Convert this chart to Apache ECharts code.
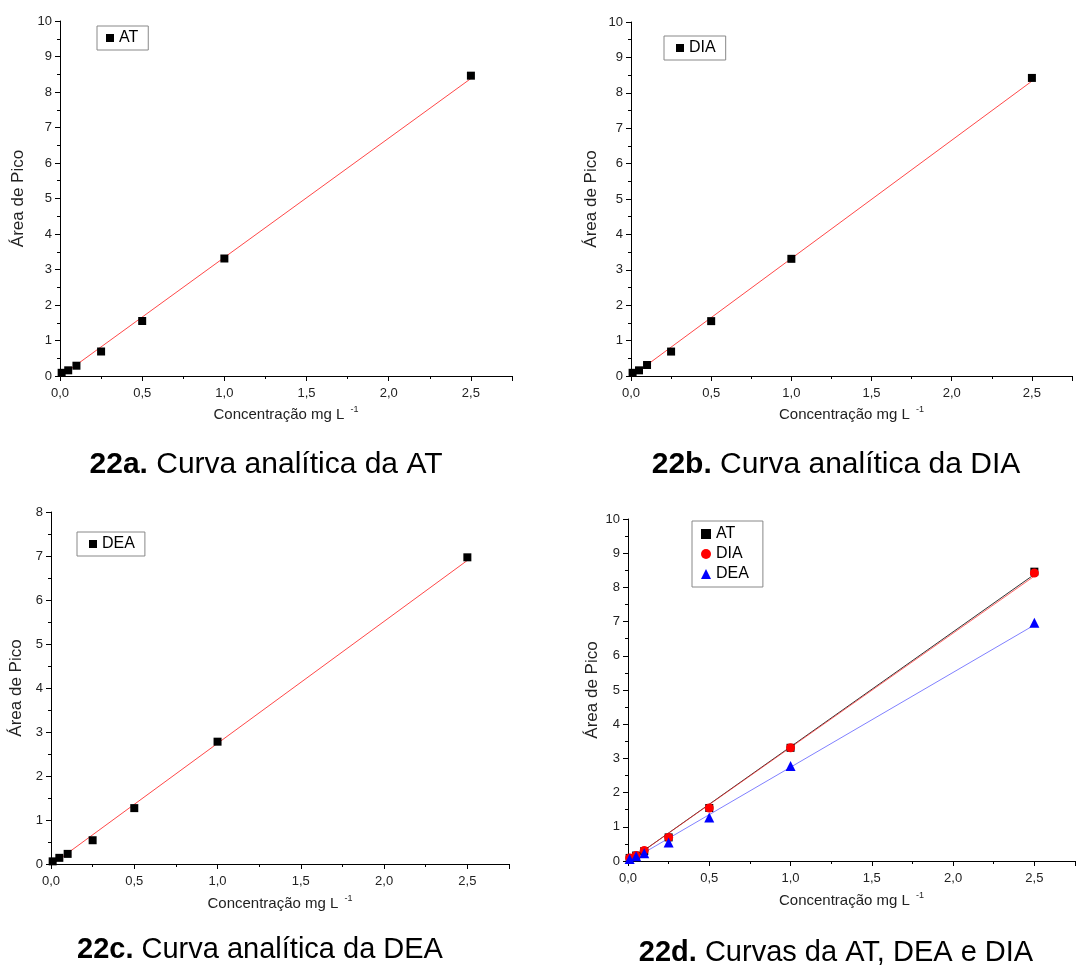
<!DOCTYPE html>
<html><head><meta charset="utf-8">
<script src="https://cdn.jsdelivr.net/npm/echarts@6/dist/echarts.min.js"></script>
<style>html,body{margin:0;padding:0;background:#fff}#c{width:1089px;height:967px}</style>
</head><body><div id="c"></div>
<script>
// concentrations (mg L-1)
const conc = [0.01, 0.05, 0.1, 0.25, 0.5, 1.0, 2.5];
// peak areas
const areaAT  = [0.09, 0.16, 0.29, 0.69, 1.55, 3.31, 8.46];
const areaDIA = [0.09, 0.16, 0.31, 0.69, 1.55, 3.31, 8.42];
const areaDEA = [0.06, 0.14, 0.23, 0.54, 1.27, 2.78, 6.97];
// fitted line end points
const fitX   = [0, 2.5];
const fitAT  = [-0.02, 8.38];
const fitDIA = [-0.02, 8.33];
const fitDEA = [-0.03, 6.90];
// captions
const captionBold = ['22a.', '22b.', '22c.', '22d.'];
const captionText = ['Curva analítica da AT', 'Curva analítica da DIA', 'Curva analítica da DEA', 'Curvas da AT, DEA e DIA'];
const yMax = [10, 10, 8, 10];

const FONT = 'Liberation Sans, Arial, sans-serif';
const pts = (xs, ys) => xs.map((x, i) => [x, ys[i]]);

const grids = [
  {left: 60, top: 21, width: 452, height: 355},
  {left: 631, top: 22, width: 441, height: 354},
  {left: 51, top: 512, width: 458, height: 352},
  {left: 628, top: 519, width: 447, height: 342}
];
const yNameGap = [33, 31, 26, 27];
const xNameGap = [29, 29, 30, 30];

const xAxes = grids.map((g, i) => ({
  type: 'value', gridIndex: i, min: 0, max: 2.75, interval: 0.5,
  splitLine: {show: false},
  axisLine: {show: true, onZero: false, lineStyle: {color: '#000', width: 1}},
  axisTick: {show: true, inside: false, length: 5, lineStyle: {color: '#000'}},
  minorTick: {show: true, splitNumber: 2, length: 3, lineStyle: {color: '#000'}},
  axisLabel: {color: '#222', fontSize: 13, fontFamily: FONT, margin: 11, showMaxLabel: false,
    formatter: v => (Math.abs(v - 2.75) < 1e-6 ? '' : v.toFixed(1).replace('.', ','))},
  name: '{n|Concentração mg L }{s|-1}',
  nameLocation: 'middle', nameGap: xNameGap[i],
  nameTextStyle: {color: '#222', fontFamily: FONT,
    rich: {n: {fontSize: 15, fontFamily: FONT, color: '#222'},
           s: {fontSize: 9, fontFamily: FONT, color: '#222', padding: [0, 0, 10, 2]}}}
}));
const yAxes = grids.map((g, i) => ({
  type: 'value', gridIndex: i, min: 0, max: yMax[i], interval: 1,
  splitLine: {show: false},
  axisLine: {show: true, onZero: false, lineStyle: {color: '#000', width: 1}},
  axisTick: {show: true, inside: false, length: 5, lineStyle: {color: '#000'}},
  minorTick: {show: true, splitNumber: 2, length: 3, lineStyle: {color: '#000'}},
  axisLabel: {color: '#222', fontSize: 13, fontFamily: FONT, margin: 8},
  name: 'Área de Pico', nameLocation: 'middle', nameGap: yNameGap[i],
  nameTextStyle: {color: '#222', fontSize: 17, fontFamily: FONT}
}));

function fitLine(i, ys, color, z) {
  return {type: 'line', xAxisIndex: i, yAxisIndex: i, data: pts(fitX, ys), symbol: 'none',
    lineStyle: {color: color, width: 1}, silent: true, z: z || 2, animation: false};
}
function scat(i, name, ys, symbol, size, color) {
  return {type: 'scatter', name: name, xAxisIndex: i, yAxisIndex: i, data: pts(conc, ys),
    symbol: symbol, symbolSize: size, itemStyle: {color: color, opacity: 1}, z: 3, animation: false};
}

const series = [
  fitLine(0, fitAT, '#ff4848'), scat(0, 'AT_a', areaAT, 'rect', 8, '#000'),
  fitLine(1, fitDIA, '#ff4848'), scat(1, 'DIA_b', areaDIA, 'rect', 8, '#000'),
  fitLine(2, fitDEA, '#ff4848'), scat(2, 'DEA_c', areaDEA, 'rect', 8, '#000'),
  fitLine(3, fitAT, '#333'), fitLine(3, fitDIA, 'rgba(255,40,40,0.7)'), fitLine(3, fitDEA, '#8080ff'),
  scat(3, 'AT', areaAT, 'rect', 8, '#000'),
  scat(3, 'DIA', areaDIA, 'circle', 9, '#ff0000'),
  scat(3, 'DEA', areaDEA, 'triangle', 10, '#0000ff')
];

const legendBase = {
  borderColor: '#888', borderWidth: 1, itemWidth: 8, itemHeight: 8, itemGap: 4,
  textStyle: {fontSize: 16, fontFamily: FONT, color: '#000'},
  formatter: n => n.split('_')[0], selectedMode: false
};
const legends = [
  Object.assign({}, legendBase, {left: 97, top: 26, padding: [4, 10, 4, 9], data: [{name: 'AT_a', icon: 'rect'}], itemGap: 10}),
  Object.assign({}, legendBase, {left: 664, top: 36, padding: [4, 10, 4, 12], data: [{name: 'DIA_b', icon: 'rect'}]}),
  Object.assign({}, legendBase, {left: 77, top: 532, padding: [4, 10, 4, 12], data: [{name: 'DEA_c', icon: 'rect'}]}),
  Object.assign({}, legendBase, {left: 692, top: 521, orient: 'vertical', padding: [5, 14, 5, 9], itemGap: 4,
    itemWidth: 10, itemHeight: 10,
    data: [{name: 'AT', icon: 'rect'}, {name: 'DIA', icon: 'circle'}, {name: 'DEA', icon: 'triangle'}]})
];

const capPos = [[266, 465], [836, 465], [260, 950], [836, 953]];
const capSize = [30, 30, 29, 29];
const graphic = capPos.map((p, i) => ({
  type: 'text', x: p[0], y: p[1],
  style: {text: '{b|' + captionBold[i] + '} ' + captionText[i], fontSize: capSize[i], fontFamily: FONT, fill: '#000',
    align: 'center', verticalAlign: 'middle',
    rich: {b: {fontSize: capSize[i], fontWeight: 'bold', fontFamily: FONT, fill: '#000'}}}
}));

const chart = echarts.init(document.getElementById('c'), null, {renderer: 'canvas'});
chart.setOption({
  backgroundColor: '#fff', animation: false,
  grid: grids, xAxis: xAxes, yAxis: yAxes, series: series, legend: legends, graphic: graphic
});
</script></body></html>
